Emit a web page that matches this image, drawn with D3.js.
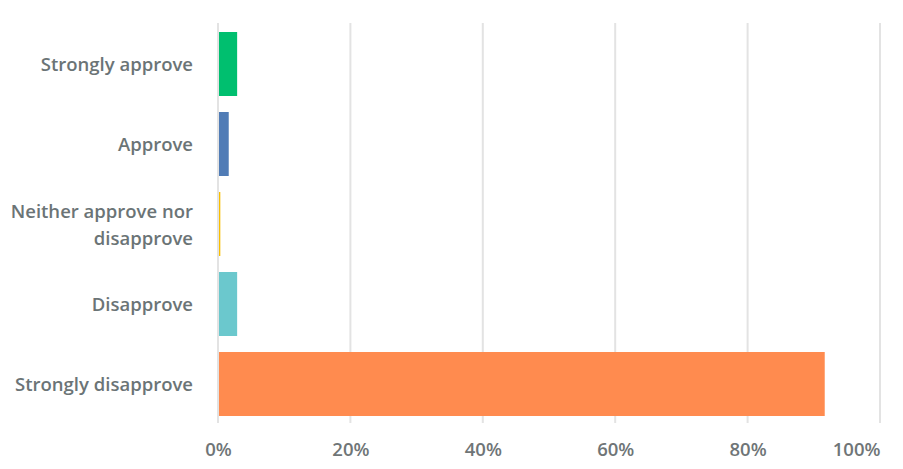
<!DOCTYPE html>
<html><head><meta charset="utf-8">
<script src="https://cdn.jsdelivr.net/npm/d3@7"></script>
<style>body{margin:0;background:#fff}svg{display:block}</style>
</head><body><svg id="c" width="903" height="469"></svg>
<script>
const categories = ["Strongly approve","Approve","Neither approve nor disapprove","Disapprove","Strongly disapprove"];
const labelLines = [["Strongly approve"],["Approve"],["Neither approve nor","disapprove"],["Disapprove"],["Strongly disapprove"]];
const values = [2.74, 1.47, 0.2, 2.74, 91.5];
const colors = ["#00BF6F","#507CB6","#F9BE00","#6BC8CD","#FF8B4F"];
const ticks = [0,20,40,60,80,100];

const svg = d3.select("#c");
const x = d3.scaleLinear().domain([0,100]).range([218,880]);
const y = d3.scaleBand().domain(categories).range([16,432]).paddingInner(0.2).paddingOuter(0.2);

// gridlines
svg.append("g").selectAll("line").data(ticks).join("line")
  .attr("x1", d=>x(d)).attr("x2", d=>x(d)).attr("y1", 23).attr("y2", 423)
  .attr("stroke","#e3e3e3").attr("stroke-width",2);

// bars
svg.append("g").selectAll("rect").data(categories).join("rect")
  .attr("x", x(0)+1).attr("y", d=>y(d))
  .attr("width", (d,i)=>Math.max(1.2, x(values[i])-x(0)))
  .attr("height", y.bandwidth())
  .attr("fill", (d,i)=>colors[i]);

// x axis labels
const xa = d3.axisBottom(x).tickValues(ticks).tickFormat(d=>d+"%").tickSize(0).tickPadding(0);
const gx = svg.append("g").attr("transform","translate(0,443)").call(xa);
gx.select(".domain").remove();
gx.selectAll("text").attr("font-family","'Open Sans', sans-serif").attr("font-size",18.5)
  .attr("font-weight",600).attr("fill","#6f7577").attr("dy","0.71em")
  .attr("text-anchor", d=> d===100 ? "end" : "middle");

// y labels
const gy = svg.append("g");
categories.forEach((c,i)=>{
  const lines = labelLines[i];
  const cy = y(c)+y.bandwidth()/2 + 1;
  const lh = 26.5;
  lines.forEach((t,j)=>{
    gy.append("text").attr("x",193).attr("y", cy + (j-(lines.length-1)/2)*lh)
      .attr("dy","0.35em").attr("text-anchor","end")
      .attr("font-family","'Open Sans', sans-serif").attr("font-size",18.5).attr("font-weight",600)
      .attr("fill","#6b7476").text(t);
  });
});
</script></body></html>
